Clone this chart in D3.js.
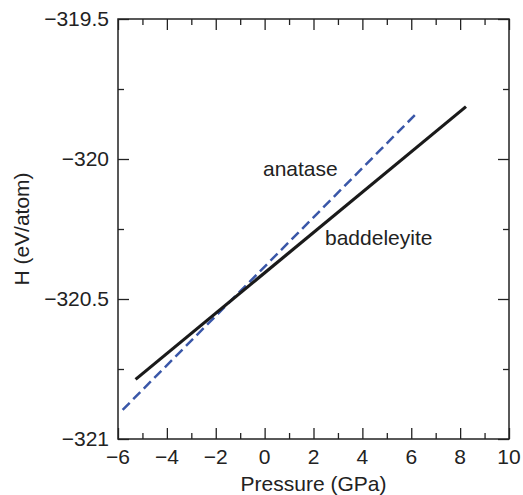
<!DOCTYPE html>
<html>
<head>
<meta charset="utf-8">
<script src="https://cdn.jsdelivr.net/npm/d3@7"></script>
<style>
  body { margin: 0; background: #fff; }
  text { font-family: "Liberation Sans", Arial, sans-serif; fill: #222; font-size: 21px; }
</style>
</head>
<body>
<div id="chart"></div>
<script>
// line end points (pressure in GPa, H in eV/atom)
var baddeleyiteP = [-5.28, 8.24];
var baddeleyiteH = [-320.787, -319.813];
var anataseP = [-5.81, 6.15];
var anataseH = [-320.896, -319.843];
var xTicks = [-6, -4, -2, 0, 2, 4, 6, 8, 10];
var yTicks = [-321, -320.5, -320, -319.5];

var margin = {top: 19, right: 14, bottom: 56, left: 118},
    width = 523 - margin.left - margin.right,
    height = 495 - margin.top - margin.bottom;

var svg = d3.select("#chart").append("svg")
    .attr("width", 523)
    .attr("height", 495)
  .append("g")
    .attr("transform", "translate(" + margin.left + "," + margin.top + ")");

var x = d3.scaleLinear().domain([-6, 10]).range([0, width]);
var y = d3.scaleLinear().domain([-321, -319.5]).range([height, 0]);

var fmt = function(d) { return String(d).replace("-", "\u2212"); };

// minor ticks (inward, all four sides)
var xMinor = d3.range(-5, 10, 2), yMinor = [-320.75, -320.25, -319.75];
function ticks(g, axis) {
  g.call(axis);
  g.select(".domain").remove();
  g.selectAll("line").attr("stroke", "#222").attr("stroke-width", 1.3);
}
svg.append("g").attr("transform", "translate(0," + height + ")")
  .call(ticks, d3.axisTop(x).tickValues(xTicks).tickSize(11).tickFormat(""));
svg.append("g").attr("transform", "translate(0," + height + ")")
  .call(ticks, d3.axisTop(x).tickValues(xMinor).tickSize(6).tickFormat(""));
svg.append("g")
  .call(ticks, d3.axisBottom(x).tickValues(xTicks).tickSize(11).tickFormat(""));
svg.append("g")
  .call(ticks, d3.axisBottom(x).tickValues(xMinor).tickSize(6).tickFormat(""));
svg.append("g")
  .call(ticks, d3.axisRight(y).tickValues(yTicks).tickSize(11).tickFormat(""));
svg.append("g")
  .call(ticks, d3.axisRight(y).tickValues(yMinor).tickSize(6).tickFormat(""));
svg.append("g").attr("transform", "translate(" + width + ",0)")
  .call(ticks, d3.axisLeft(y).tickValues(yTicks).tickSize(11).tickFormat(""));
svg.append("g").attr("transform", "translate(" + width + ",0)")
  .call(ticks, d3.axisLeft(y).tickValues(yMinor).tickSize(6).tickFormat(""));

// frame
svg.append("rect")
  .attr("width", width).attr("height", height)
  .attr("fill", "none").attr("stroke", "#222").attr("stroke-width", 1.5);

// tick labels
svg.selectAll(".xl").data(xTicks).enter().append("text")
  .attr("x", function(d) { return x(d); })
  .attr("y", height + 25)
  .attr("text-anchor", "middle")
  .text(fmt);
svg.selectAll(".yl").data(yTicks).enter().append("text")
  .attr("x", -9)
  .attr("y", function(d) { return y(d) + 7; })
  .attr("text-anchor", "end")
  .text(fmt);

// axis titles
svg.append("text")
  .attr("x", width / 2).attr("y", height + 52)
  .attr("text-anchor", "middle")
  .text("Pressure (GPa)");
svg.append("text")
  .attr("transform", "translate(" + (29 - margin.left) + "," + (229 - margin.top) + ") rotate(-90)")
  .attr("text-anchor", "middle")
  .text("H (eV/atom)");

var line = d3.line().x(function(d) { return x(d[0]); }).y(function(d) { return y(d[1]); });

svg.append("path")
  .datum(d3.zip(anataseP, anataseH))
  .attr("d", line)
  .attr("fill", "none")
  .attr("stroke", "#3a57a8")
  .attr("stroke-width", 2.5)
  .attr("stroke-dasharray", "10,5");

svg.append("path")
  .datum(d3.zip(baddeleyiteP, baddeleyiteH))
  .attr("d", line)
  .attr("fill", "none")
  .attr("stroke", "#1a1a1a")
  .attr("stroke-width", 3.2);

// series labels
svg.append("text")
  .attr("x", 263 - margin.left).attr("y", 176 - margin.top)
  .text("anatase");
svg.append("text")
  .attr("x", 325 - margin.left).attr("y", 245 - margin.top)
  .text("baddeleyite");
</script>
</body>
</html>
